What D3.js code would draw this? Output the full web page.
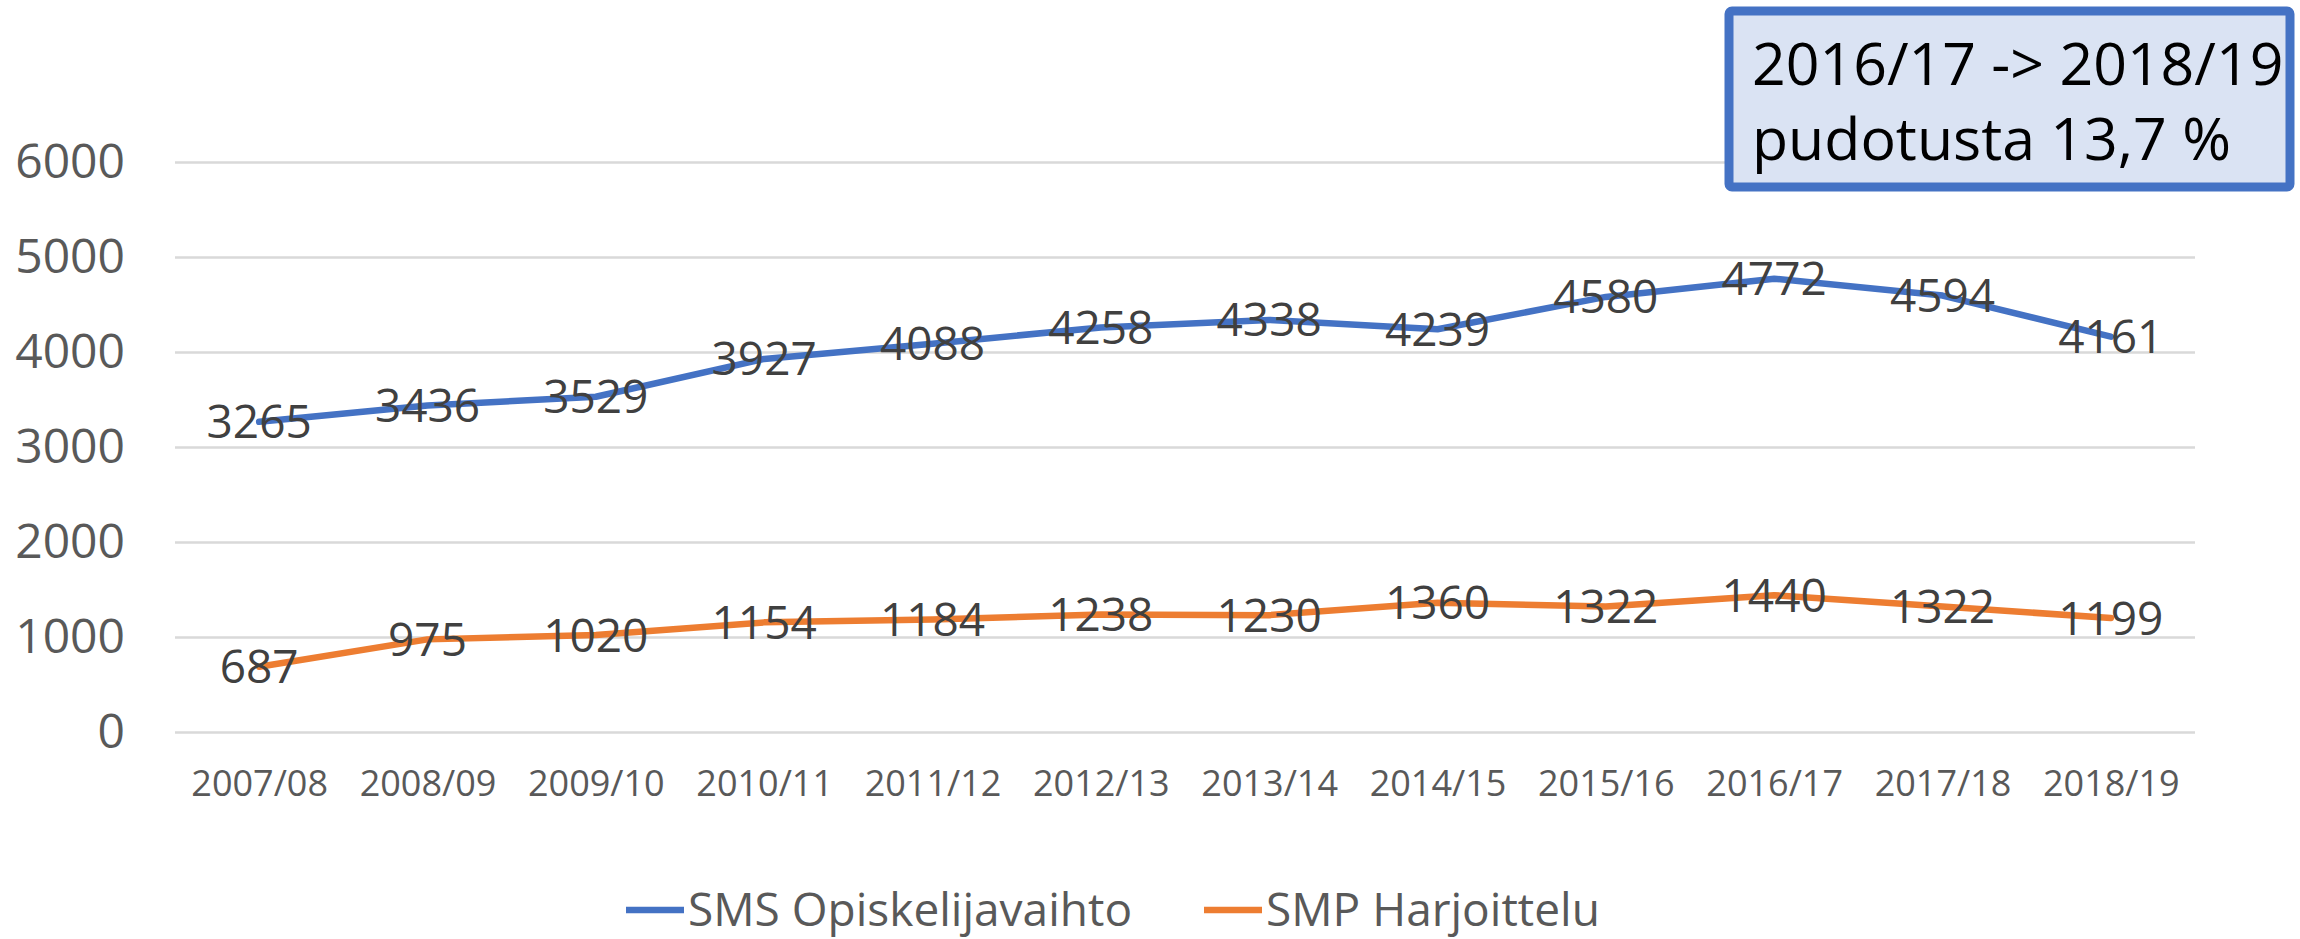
<!DOCTYPE html>
<html>
<head>
    <title>SMS / SMP</title>
    <meta charset="UTF-8">
    <script src="https://d3js.org/d3.v7.min.js"></script>
    <style>
      body { margin: 0; background: #ffffff; }
      text { font-family: 'Open Sans', sans-serif; }
    </style>
</head>
<body>
<div id="my_dataviz"></div>
<script>
// data
var years = ["2007/08", "2008/09", "2009/10", "2010/11", "2011/12", "2012/13",
             "2013/14", "2014/15", "2015/16", "2016/17", "2017/18", "2018/19"];
var smsValues = [3265, 3436, 3529, 3927, 4088, 4258, 4338, 4239, 4580, 4772, 4594, 4161];
var smpValues = [687, 975, 1020, 1154, 1184, 1238, 1230, 1360, 1322, 1440, 1322, 1199];
var yTicks = [0, 1000, 2000, 3000, 4000, 5000, 6000];
var seriesNames = ["SMS Opiskelijavaihto", "SMP Harjoittelu"];
var noteLines = ["2016/17 -> 2018/19", "pudotusta 13,7 %"];

var width = 2300, height = 939;
var margin = {top: 162, right: 105, bottom: 207, left: 175};

var svg = d3.select("#my_dataviz")
  .append("svg")
    .attr("width", width)
    .attr("height", height);

var x = d3.scalePoint()
  .domain(years)
  .range([margin.left, width - margin.right])
  .padding(0.5);

var y = d3.scaleLinear()
  .domain([0, 6000])
  .range([height - margin.bottom, margin.top]);

// gridlines + y labels
var yAxis = svg.append("g")
  .attr("transform", "translate(" + margin.left + ",0)")
  .call(d3.axisLeft(y)
    .tickValues(yTicks)
    .tickSize(-(width - margin.left - margin.right))
    .tickPadding(50)
    .tickFormat(d3.format("d")));
yAxis.select(".domain").remove();
yAxis.selectAll(".tick line")
  .attr("stroke", "#d9d9d9")
  .attr("stroke-width", 2.5);
yAxis.selectAll(".tick text")
  .attr("fill", "#595959")
  .style("font-size", "48px");

// x labels
var xAxis = svg.append("g")
  .attr("transform", "translate(0," + (height - margin.bottom) + ")")
  .call(d3.axisBottom(x).tickSize(0).tickPadding(38));
xAxis.select(".domain").remove();
xAxis.selectAll(".tick text")
  .attr("fill", "#595959")
  .style("font-size", "36px");

var series = [
  {name: seriesNames[0], values: smsValues, color: "#4472c4"},
  {name: seriesNames[1], values: smpValues, color: "#ed7d31"}
];

var line = d3.line()
  .x(function(d, i) { return x(years[i]); })
  .y(function(d) { return y(d); });

series.forEach(function(s) {
  svg.append("path")
    .datum(s.values)
    .attr("fill", "none")
    .attr("stroke", s.color)
    .attr("stroke-width", 6.5)
    .attr("stroke-linejoin", "round")
    .attr("stroke-linecap", "round")
    .attr("d", line);

  // labels centered on the points
  svg.append("g")
    .selectAll("text")
    .data(s.values)
    .enter()
    .append("text")
      .attr("x", function(d, i) { return x(years[i]); })
      .attr("y", function(d) { return y(d); })
      .attr("dy", "0.36em")
      .attr("text-anchor", "middle")
      .attr("fill", "#404040")
      .style("font-size", "46px")
      .text(function(d) { return d; });
});

// legend
var legendX = [626, 1204];
var legend = svg.append("g");
series.forEach(function(s, i) {
  legend.append("line")
    .attr("x1", legendX[i]).attr("x2", legendX[i] + 58)
    .attr("y1", 910).attr("y2", 910)
    .attr("stroke", s.color)
    .attr("stroke-width", 6.5);
  legend.append("text")
    .attr("x", legendX[i] + 62)
    .attr("y", 910)
    .attr("dy", "0.34em")
    .attr("fill", "#595959")
    .style("font-size", "46px")
    .text(s.name);
});

// note box
var note = svg.append("g");
note.append("rect")
  .attr("x", 1729).attr("y", 11)
  .attr("width", 561).attr("height", 176)
  .attr("rx", 3)
  .attr("fill", "#dae3f3")
  .attr("stroke", "#4472c4")
  .attr("stroke-width", 9);
note.selectAll("text")
  .data(noteLines)
  .enter()
  .append("text")
    .attr("x", 1752)
    .attr("y", function(d, i) { return 85 + i * 75; })
    .attr("fill", "#000000")
    .style("font-size", "59px")
    .text(function(d) { return d; });
</script>
</body>
</html>
